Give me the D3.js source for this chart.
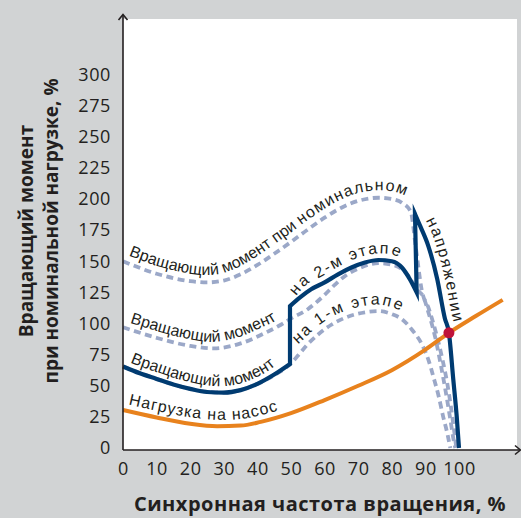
<!DOCTYPE html>
<html><head><meta charset="utf-8">
<script src="https://cdn.jsdelivr.net/npm/d3@7"></script>
<style>
html,body{margin:0;padding:0;background:#d1d3d4;}
svg{display:block;}
</style></head><body>
<svg id="chart" width="521" height="518"></svg>
<script>
// ---------- data ----------
const xTicks = [0,10,20,30,40,50,60,70,80,90,100];
const yTicks = [0,25,50,75,100,125,150,175,200,225,250,275,300];
const xTitle = "Синхронная частота вращения, %";
const yTitleLines = ["Вращающий момент", "при номинальной нагрузке, %"];

// pump load (speed %, torque %)
const pumpLoad = [[0,30.5],[10,24.5],[20,19.5],[28,17.5],[35,18],[41,21],[50,28],[60,38.5],[70,50],[80,62.5],[90,79],[97,92.5],[105,106],[113,119]];
// torque at nominal voltage (dashed)
const torqueNominal = [[0,150],[10,140],[20,134],[25,133],[30,134.5],[35,139.5],[40,147],[45,156],[50,165.5],[55,175.5],[60,185],[65,193],[70,198.5],[76,201],[80,200],[83,197],[85.6,190],[87.2,160],[88.9,127],[91,112],[93,94],[95,72],[96.5,52],[97.5,35],[98.5,15],[99.2,0]];
// torque at stage 2 (dashed)
const torqueStage2 = [[0,97],[10,88.5],[20,82],[27,80],[35,84],[42,92],[47,99],[50,104],[55,111.5],[60,123],[63,131],[66,138],[70,144],[76,148.5],[81,146.5],[85,138],[87.5,127],[89.3,122],[91,108],[93,88],[94.5,68],[96,46],[97.3,25],[98.5,5],[98.9,0]];
// torque at stage 1 (dashed)
const torqueStage1 = [[0,65.5],[10,55.5],[20,47.5],[30,44.5],[40,51.5],[45,58.5],[50,68],[52,74],[55,83.5],[58,91],[62,99],[66,104.5],[72,109],[76,110],[80,107.5],[83,103.5],[86,95],[89,83],[91,70],[92.4,57],[94,41],[95.3,25],[96.5,12],[97.4,0]];
// actual motor torque (solid), three runs joined by vertical switches
const motorStage1 = [[0,65.5],[5,60],[10,55.5],[15,51],[20,47.5],[25,45],[30,44.5],[35,46.5],[40,51.5],[45,59],[49.7,67.5]];
const motorStage2 = [[49.7,114],[52.7,121],[56,127.5],[60,133],[64,139.5],[68,145],[72,149],[76,151],[80,150],[83,145],[85.5,135],[87.4,125]];
const motorNominal = [[86.9,188],[88.5,178],[90.9,162],[93.5,136],[95.8,104],[97,92.5],[98.3,55],[99.3,26],[100,0]];
const operatingPoint = [97, 92.5];

const labelNominal = ["Вращающий момент при ", "номинальном", "напряжении"];
const labelStage2 = ["Вращающий момент", "на 2-м этапе"];
const labelStage1 = ["Вращающий момент", "на 1-м этапе"];
const labelLoad = "Нагрузка на насос";

// ---------- drawing ----------
const svg = d3.select("#chart");
const W = 521, H = 518;
const C = {navy:"#003b71", dash:"#9ba8c8", orange:"#e8821d", red:"#bf1239", ink:"#231f20", grey:"#d1d3d4"};

const x = d3.scaleLinear().domain([0,100]).range([123,459]);
const y = d3.scaleLinear().domain([0,300]).range([448,74.5]);
const axisY = 450, plotTop = 19, plotRight = 517;

svg.append("rect").attr("width",W).attr("height",H).attr("fill",C.grey);
svg.append("rect").attr("x",x(0)).attr("y",plotTop).attr("width",plotRight-x(0)).attr("height",axisY-plotTop).attr("fill","#fff");

const line = d3.line().x(d=>x(d[0])).y(d=>y(d[1])).curve(d3.curveMonotoneX);

const g = svg.append("g");
// dashed torque curves
[torqueNominal, torqueStage2, torqueStage1].forEach(s=>{
  g.append("path").attr("d", line(s)).attr("fill","none").attr("stroke",C.dash)
   .attr("stroke-width",3.8).attr("stroke-dasharray","7,4.5");
});
// pump load
g.append("path").attr("d", line(pumpLoad)).attr("fill","none").attr("stroke",C.orange).attr("stroke-width",4);
// motor torque solid
const motorD = [motorStage1, motorStage2, motorNominal].map((s,i)=>{
  const d = line(s); return i===0 ? d : "L" + d.slice(1);
}).join("");
g.append("path").attr("d", motorD).attr("fill","none").attr("stroke",C.navy).attr("stroke-width",4.2).attr("stroke-linejoin","miter").attr("stroke-miterlimit",10);
// operating point
g.append("circle").attr("cx",x(operatingPoint[0])).attr("cy",y(operatingPoint[1])).attr("r",5.5).attr("fill",C.red);

// ---------- curved labels ----------
const defs = svg.append("defs");
function offsetPoints(dataPts, dist){
  const tmp = svg.append("path").attr("d", d3.line().x(d=>x(d[0])).y(d=>y(d[1])).curve(d3.curveCatmullRom.alpha(0.5))(dataPts)).attr("fill","none");
  const node = tmp.node(), L = node.getTotalLength(), out = [];
  for(let s=0; s<=L; s+=2){
    const p = node.getPointAtLength(s);
    const a = node.getPointAtLength(Math.max(0,s-4)), b = node.getPointAtLength(Math.min(L,s+4));
    const dx=b.x-a.x, dy=b.y-a.y, n=Math.hypot(dx,dy)||1;
    out.push([p.x + dy/n*dist, p.y - dx/n*dist]);
  }
  tmp.remove();
  return out;
}
function makeLabelPath(id, dataPts, dist){
  const pts = offsetPoints(dataPts, dist);
  const p = defs.append("path").attr("id",id).attr("d", d3.line().curve(d3.curveBasis)(pts));
  return p.node();
}
function lengthAtX(node, xTarget){
  const L = node.getTotalLength();
  for(let s=0; s<=L; s+=0.5){ if(node.getPointAtLength(s).x >= xTarget) return s; }
  return L;
}
function lengthAtY(node, yTarget, fromX){
  const L = node.getTotalLength();
  for(let s=0; s<=L; s+=0.5){ const p=node.getPointAtLength(s); if(p.x>=fromX && p.y >= yTarget) return s; }
  return L;
}
const labFont = "'Liberation Sans', Arial, sans-serif";
function labelText(){
  return svg.append("text").attr("font-family",labFont).attr("font-size",16).attr("fill",C.ink);
}

// nominal label: along nominal dashed curve then down the final motor curve
const p1 = makeLabelPath("labNom", torqueNominal.filter(d=>d[0]<=85.6).concat(motorNominal.filter(d=>d[0]>=88.5 && d[1]>80)), 7.5);
const t1 = labelText().append("textPath").attr("href","#labNom").attr("startOffset",3);
t1.append("tspan").text(labelNominal[0]);
t1.append("tspan").attr("letter-spacing",1.2).text(labelNominal[1]);
labelText().append("textPath").attr("href","#labNom").attr("startOffset",lengthAtY(p1, y(183), x(86))).attr("letter-spacing",1.8).text(labelNominal[2]);

// stage 2 label
const p2 = makeLabelPath("labS2", torqueStage2.filter(d=>d[0]<=47).concat(motorStage2.filter(d=>d[0]>=55 && d[0]<=83)), 6.5);
labelText().append("textPath").attr("href","#labS2").attr("startOffset",5).text(labelStage2[0]);
labelText().append("textPath").attr("href","#labS2").attr("startOffset",lengthAtX(p2, x(51.5))).attr("letter-spacing",2).text(labelStage2[1]);

// stage 1 label
const p3 = makeLabelPath("labS1", motorStage1.filter(d=>d[0]<=45).concat(torqueStage1.filter(d=>d[0]>=55 && d[0]<=83)), 6.5);
labelText().append("textPath").attr("href","#labS1").attr("startOffset",5).text(labelStage1[0]);
labelText().append("textPath").attr("href","#labS1").attr("startOffset",lengthAtX(p3, x(52))).attr("letter-spacing",2).text(labelStage1[1]);

// load label
makeLabelPath("labLoad", pumpLoad.filter(d=>d[0]<=60), 6.5);
labelText().attr("letter-spacing",1).append("textPath").attr("href","#labLoad").attr("startOffset",4).text(labelLoad);

// ---------- axes ----------
const tickFont = "'Open Sans', sans-serif";
const ya = svg.append("g").attr("transform",`translate(${x(0)},0)`)
  .call(d3.axisLeft(y).tickValues(yTicks).tickSize(0).tickPadding(12));
ya.select(".domain").remove();
ya.selectAll("text").attr("font-family",tickFont).attr("font-size",18).attr("letter-spacing",0.6).attr("fill",C.ink);

const xa = svg.append("g").attr("transform",`translate(0,${axisY})`)
  .call(d3.axisBottom(x).tickValues(xTicks).tickSize(0).tickPadding(12));
xa.select(".domain").remove();
xa.selectAll("text").attr("font-family",tickFont).attr("font-size",18).attr("letter-spacing",0.6).attr("fill",C.ink);

// axis lines with arrowheads
svg.append("path").attr("d",`M${x(0)},${axisY}V15`).attr("stroke",C.ink).attr("stroke-width",1.6).attr("fill","none");
svg.append("path").attr("d",`M${x(0)-4.5},20L${x(0)},14.5L${x(0)+4.5},20`).attr("stroke",C.ink).attr("stroke-width",1.6).attr("fill","none");
svg.append("path").attr("d",`M${x(0)},${axisY}H520`).attr("stroke",C.ink).attr("stroke-width",1.6).attr("fill","none");
svg.append("path").attr("d",`M515,${axisY-4.5}L520.5,${axisY}L515,${axisY+4.5}`).attr("stroke",C.ink).attr("stroke-width",1.6).attr("fill","none");

// titles
const titleFont = "'Open Sans', sans-serif";
svg.append("text").attr("x",320).attr("y",511).attr("text-anchor","middle")
  .attr("font-family",titleFont).attr("font-weight",700).attr("font-size",20).attr("letter-spacing",0.5).attr("fill",C.ink).text(xTitle);
yTitleLines.forEach((t,i)=>{
  svg.append("text").attr("transform",`translate(${33+i*25},231) rotate(-90)`).attr("text-anchor","middle")
    .attr("font-family",titleFont).attr("font-weight",700).attr("font-size",19).attr("fill",C.ink).text(t);
});
</script>
</body></html>
